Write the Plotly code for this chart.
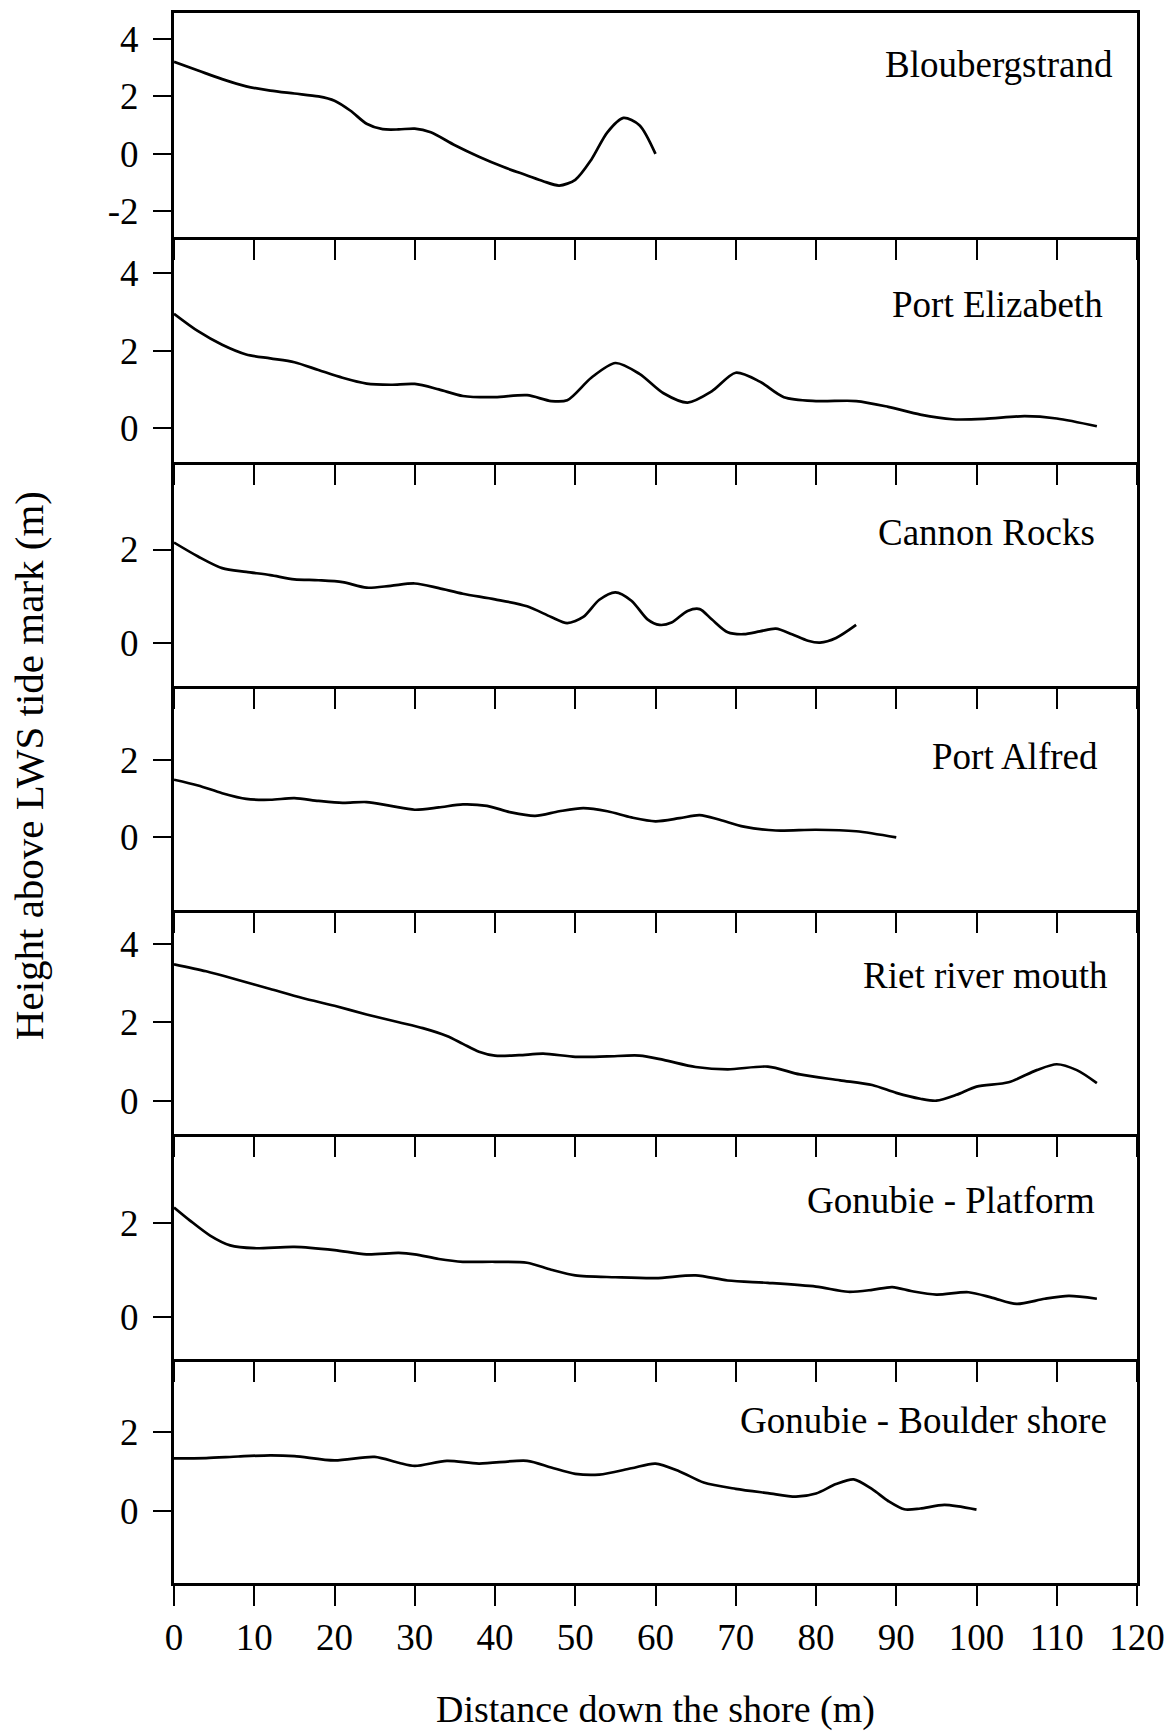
import plotly.graph_objects as go

# ---------------- data ----------------
site_names = ["Bloubergstrand", "Port Elizabeth", "Cannon Rocks", "Port Alfred",
              "Riet river mouth", "Gonubie - Platform", "Gonubie - Boulder shore"]

blou_x = [0, 3, 6, 9, 12, 15, 18, 20, 22, 24, 26, 28, 30, 32, 35, 38, 41, 44, 46, 48, 50, 52, 54, 56, 58, 60]
blou_y = [3.2, 2.9, 2.6, 2.35, 2.2, 2.1, 2.0, 1.85, 1.5, 1.05, 0.86, 0.85, 0.88, 0.75, 0.3, -0.1, -0.45, -0.75, -0.95, -1.1, -0.9, -0.2, 0.75, 1.25, 1.0, 0.0]

pe_x = [0, 3, 6, 9, 12, 15, 18, 21, 24, 27, 30, 33, 36, 40, 44, 47, 49, 52, 55, 58, 61, 64, 67, 70, 73, 76, 80, 85, 89, 93, 97, 101, 106, 110, 115]
pe_y = [2.95, 2.5, 2.15, 1.9, 1.8, 1.7, 1.5, 1.3, 1.15, 1.12, 1.14, 1.0, 0.83, 0.8, 0.85, 0.7, 0.72, 1.3, 1.68, 1.4, 0.9, 0.66, 0.95, 1.43, 1.2, 0.8, 0.7, 0.7, 0.55, 0.35, 0.23, 0.24, 0.31, 0.25, 0.05]

cr_x = [0, 3, 6, 9, 12, 15, 18, 21, 24, 27, 30, 33, 36, 40, 44, 47, 49, 51, 53, 55, 57, 59, 60.5, 62, 64, 65.5, 67, 69, 71, 73, 75, 77, 79, 80.5, 82.5, 85]
cr_y = [2.15, 1.85, 1.6, 1.52, 1.45, 1.36, 1.34, 1.3, 1.18, 1.22, 1.27, 1.17, 1.05, 0.93, 0.78, 0.55, 0.42, 0.55, 0.92, 1.08, 0.9, 0.5, 0.38, 0.43, 0.68, 0.72, 0.5, 0.22, 0.18, 0.24, 0.3, 0.18, 0.04, 0.0, 0.1, 0.38]

pa_x = [0, 3, 6, 9, 12, 15, 18, 21, 24, 27, 30, 33, 36, 39, 42, 45, 48, 51, 54, 57, 60, 63, 65.5, 68, 71, 75, 80, 85, 90]
pa_y = [1.5, 1.35, 1.15, 1.0, 0.98, 1.02, 0.95, 0.9, 0.92, 0.82, 0.72, 0.78, 0.86, 0.82, 0.65, 0.56, 0.68, 0.76, 0.68, 0.52, 0.42, 0.5, 0.58, 0.46, 0.28, 0.18, 0.2, 0.16, 0.0]

riet_x = [0, 4, 8, 12, 16, 20, 24, 28, 31, 34, 36, 38, 40, 43, 46, 50, 54, 58, 61, 65, 69, 74, 78, 83, 87, 90, 93, 95, 97.5, 100, 104, 107.5, 110, 112.5, 115]
riet_y = [3.48, 3.3, 3.08, 2.85, 2.62, 2.42, 2.2, 2.0, 1.85, 1.65, 1.45, 1.25, 1.15, 1.16, 1.2, 1.12, 1.13, 1.15, 1.04, 0.86, 0.8, 0.87, 0.67, 0.52, 0.4, 0.2, 0.05, 0.0, 0.15, 0.36, 0.47, 0.78, 0.93, 0.78, 0.45]

gp_x = [0, 2, 4.5, 7, 10, 15, 20, 24, 28, 30, 33, 36, 40, 44, 47, 50, 55, 60, 65, 69, 74, 80, 84, 87, 89.5, 92, 95, 99, 102, 105, 108.5, 111.5, 115]
gp_y = [2.33, 2.05, 1.73, 1.52, 1.46, 1.49, 1.42, 1.33, 1.36, 1.33, 1.23, 1.17, 1.17, 1.15, 1.0, 0.88, 0.84, 0.82, 0.88, 0.77, 0.72, 0.64, 0.53, 0.57, 0.63, 0.54, 0.47, 0.52, 0.4, 0.27, 0.38, 0.44, 0.38]

gb_x = [0, 4, 8, 12, 15, 20, 25, 28, 30, 34, 38, 44, 47, 50, 53, 57, 60, 63, 66, 70, 74, 77.5, 80, 82.5, 84.7, 87, 89, 91, 93, 96, 100]
gb_y = [1.33, 1.34, 1.38, 1.41, 1.39, 1.28, 1.37, 1.22, 1.14, 1.27, 1.2, 1.27, 1.1, 0.94, 0.92, 1.08, 1.2, 1.0, 0.72, 0.56, 0.45, 0.36, 0.44, 0.68, 0.8, 0.55, 0.25, 0.04, 0.06, 0.15, 0.03]

y_ranges = [[-2.9, 4.9], [-0.86, 4.92], [-0.93, 3.89], [-1.89, 3.94],
            [-0.86, 4.86], [-0.9, 3.89], [-1.83, 3.86]]
y_ticks = [[-2, 0, 2, 4], [0, 2, 4], [0, 2], [0, 2], [0, 2, 4], [0, 2], [0, 2]]
x_ticks = [0, 10, 20, 30, 40, 50, 60, 70, 80, 90, 100, 110, 120]

x_title = "Distance down the shore (m)"
y_title = "Height above LWS tide mark (m)"

series = [(blou_x, blou_y), (pe_x, pe_y), (cr_x, cr_y), (pa_x, pa_y),
          (riet_x, riet_y), (gp_x, gp_y), (gb_x, gb_y)]

# ---------------- layout geometry ----------------
W, H = 1175, 1733
ML, MR, MT, MB = 174, 34, 10, 150
PW = W - ML - MR
PH = H - MT - MB
# label placement in pixels (right edge, vertical centre)
label_px = [(1119, 62), (1109, 302), (1101, 530), (1104, 755),
            (1114, 974), (1101, 1200), (1113, 1420)]

FONT = "Liberation Serif, Times New Roman, serif"
n = len(site_names)
LW = 3

fig = go.Figure()
for i, (xs, ys) in enumerate(series):
    k = "" if i == 0 else str(i + 1)
    fig.add_trace(go.Scatter(x=xs, y=ys, mode="lines",
                             line=dict(color="black", width=2.7, shape="spline", smoothing=0.8),
                             xaxis="x" + k, yaxis="y" + k, showlegend=False,
                             hoverinfo="skip"))

layout = dict(width=W, height=H,
              margin=dict(l=ML, r=MR, t=MT, b=MB, pad=0),
              paper_bgcolor="white", plot_bgcolor="rgba(0,0,0,0)",
              font=dict(family=FONT, color="black", size=37),
              showlegend=False)

annotations = []
for i in range(n):
    k = "" if i == 0 else str(i + 1)
    top = 1 - i / n
    bot = 1 - (i + 1) / n
    layout["xaxis" + k] = dict(
        domain=[0, 1], anchor="y" + k, range=[0, 120],
        tickvals=x_ticks, ticktext=[str(v) for v in x_ticks],
        ticks="outside", ticklen=20, tickwidth=1.6, tickcolor="black",
        showticklabels=(i == n - 1), tickfont=dict(size=37, family=FONT),
        showline=True, mirror=(i == 0), linecolor="black", linewidth=LW,
        showgrid=False, zeroline=False, fixedrange=True)
    layout["yaxis" + k] = dict(
        domain=[bot, top], anchor="x" + k, range=y_ranges[i],
        tickvals=y_ticks[i], ticktext=[str(v) for v in y_ticks[i]],
        ticks="outside", ticklen=18, tickwidth=1.6, tickcolor="black",
        tickfont=dict(size=37, family=FONT), ticklabelstandoff=7,
        showline=True, mirror=True, linecolor="black", linewidth=LW,
        showgrid=False, zeroline=False, fixedrange=True)
    rx, cy = label_px[i]
    annotations.append(dict(text=site_names[i], xref="paper", yref="paper",
                            x=(rx - ML) / PW, y=(H - MB - cy) / PH,
                            xanchor="right", yanchor="middle", showarrow=False,
                            font=dict(size=37, family=FONT, color="black")))

annotations.append(dict(text=x_title, xref="paper", yref="paper",
                        x=(657 - ML) / PW, y=(H - MB - 1710) / PH,
                        xanchor="center", yanchor="middle", showarrow=False,
                        font=dict(size=38, family=FONT, color="black")))
annotations.append(dict(text=y_title, xref="paper", yref="paper",
                        x=(28 - ML) / PW, y=(H - MB - 764) / PH, textangle=-90,
                        xanchor="center", yanchor="middle", showarrow=False,
                        font=dict(size=41, family=FONT, color="black")))
layout["annotations"] = annotations
fig.update_layout(**layout)

fig.write_html("out.html")
